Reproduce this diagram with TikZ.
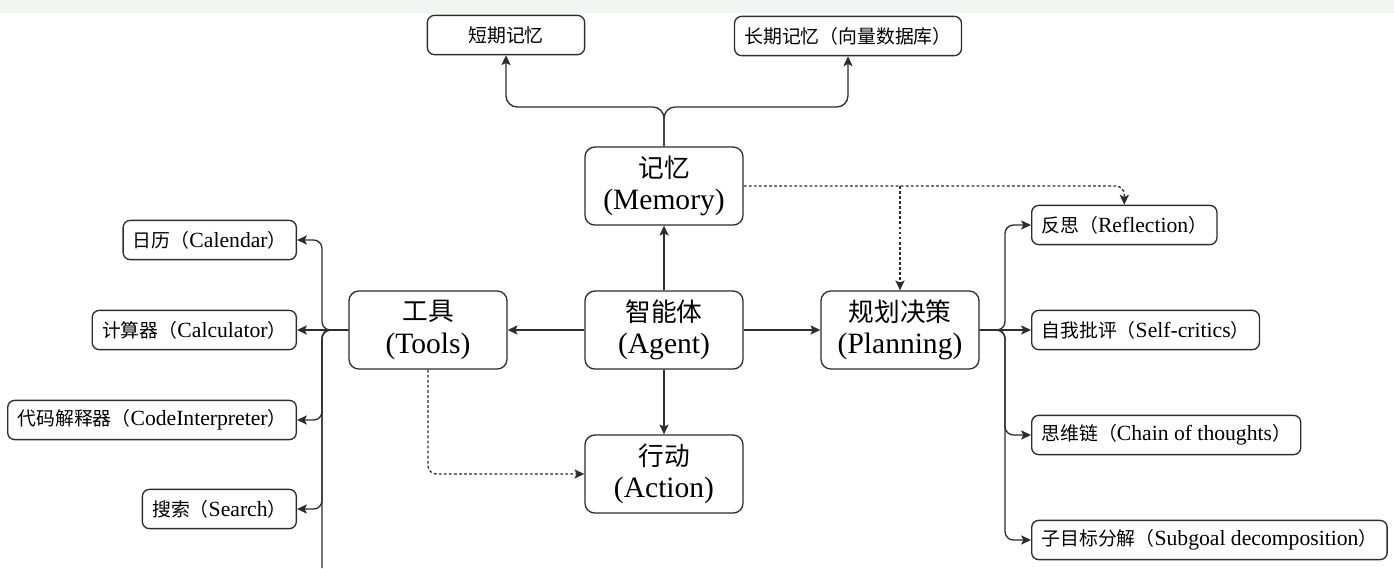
\documentclass[tikz,border=0pt]{standalone}
\usepackage{fontspec}
\setmainfont{Liberation Serif}
\newfontfamily\cjk[Scale=0.87]{Noto Sans CJK SC}
\usetikzlibrary{arrows.meta}
\definecolor{linegray}{RGB}{45,45,45}
\definecolor{bandgray}{RGB}{240,246,242}
\newcommand{\zh}[1]{{\cjk #1}}

\begin{document}
\begin{tikzpicture}[x=0.025cm, y=-0.025cm,
  bigbox/.style={draw=linegray, line width=0.95pt, rounded corners=7pt,
    minimum width=3.95cm, minimum height=1.95cm, align=center,
    font=\fontsize{21}{23}\selectfont},
  leafbox/.style={draw=linegray, line width=0.95pt, rounded corners=5pt,
    minimum height=0.98cm, inner xsep=7pt, font=\fontsize{15.4}{18}\selectfont},
  conn/.style={draw=linegray, line width=0.95pt, -{Stealth[length=7pt,width=6.5pt,inset=1.5pt]}},
  dashconn/.style={conn, dash pattern=on 2pt off 1.6pt}]
  \useasboundingbox (0,0) rectangle (1394,568);
  \fill[bandgray] (0,0) rectangle (1394,13);

  % main blocks
  \node[bigbox] (memory) at (664,186) {\zh{记忆}\\(Memory)};
  \node[bigbox] (agent) at (664,330) {\zh{智能体}\\(Agent)};
  \node[bigbox] (tools) at (428,330) {\zh{工具}\\(Tools)};
  \node[bigbox] (plan) at (900,330) {\zh{规划决策}\\(Planning)};
  \node[bigbox] (action) at (664,474) {\zh{行动}\\(Action)};

  % memory leaves
  \node[leafbox, minimum width=3.93cm] (shortmem) at (506,35) {\zh{短期记忆}};
  \node[leafbox] (longmem) at (848,36) {\zh{长期记忆（向量数据库）}};

  % tool leaves
  \node[leafbox, anchor=east] (calendar) at (297,240) {\zh{日历（}Calendar\zh{）}};
  \node[leafbox, anchor=east] (calculator) at (297,330) {\zh{计算器（}Calculator\zh{）}};
  \node[leafbox, anchor=east] (codeint) at (297,420) {\zh{代码解释器（}CodeInterpreter\zh{）}};
  \node[leafbox, anchor=east] (search) at (297,509) {\zh{搜索（}Search\zh{）}};

  % planning leaves
  \node[leafbox, anchor=west] (reflection) at (1031,225) {\zh{反思（}Reflection\zh{）}};
  \node[leafbox, anchor=west] (selfcrit) at (1031,330) {\zh{自我批评（}Self-critics\zh{）}};
  \node[leafbox, anchor=west] (chain) at (1031,435) {\zh{思维链（}Chain of thoughts\zh{）}};
  \node[leafbox, anchor=west] (subgoal) at (1031,540) {\zh{子目标分解（}Subgoal decomposition\zh{）}};

  \coordinate (memsplit) at (664,107);
  \coordinate (toolbus) at (322,330);
  \coordinate (toolend) at (322,568);
  \coordinate (planbus) at (1005,330);
  \coordinate (dashsplit) at (memory.east -| plan.north);

  % agent links
  \draw[conn] (agent) -- (memory);
  \draw[conn] (agent) -- (tools);
  \draw[conn] (agent) -- (plan);
  \draw[conn] (agent) -- (action);

  \draw[conn, rounded corners=8pt] (memory.north) -- (memsplit) -| (shortmem.south);
  \draw[conn, rounded corners=8pt] (memory.north) -- (memsplit) -| (longmem.south);

  % tools bus
  \draw[conn] (tools.west) -- (calculator.east);
  \foreach \leaf in {calendar, codeint, search}
    \draw[conn, rounded corners=6pt] (tools.west) -- (toolbus) |- (\leaf.east);
  \draw[draw=linegray, line width=0.95pt, rounded corners=6pt] (tools.west) -- (toolbus) -- (toolend);

  % planning bus
  \draw[conn] (plan.east) -- (selfcrit.west);
  \foreach \leaf in {reflection, chain, subgoal}
    \draw[conn, rounded corners=6pt] (plan.east) -- (planbus) |- (\leaf.west);

  % dashed feedback
  \draw[dashconn, rounded corners=6pt] (memory.east) -| (reflection.north);
  \draw[dashconn] (dashsplit) -- (plan.north);
  \draw[dashconn, rounded corners=6pt] (tools.south) |- (action.west);
\end{tikzpicture}
\end{document}
